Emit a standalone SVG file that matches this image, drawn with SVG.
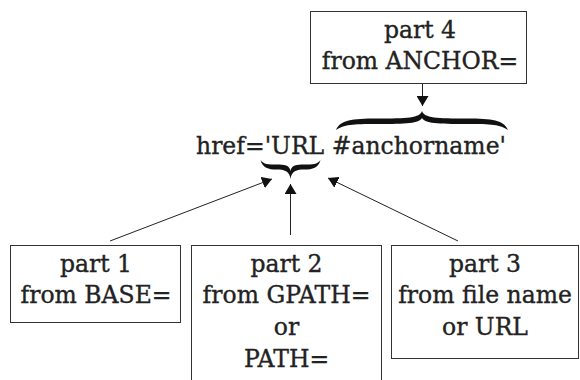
<svg xmlns="http://www.w3.org/2000/svg" width="580" height="380" viewBox="0 0 580 380">
<defs>
<style>
.box{fill:#fff;stroke:#333;stroke-width:1}
.t{font-family:"DejaVu Serif",serif;font-size:23.5px;fill:#222;stroke:#222;stroke-width:0.35;text-anchor:middle}
.main{font-family:"DejaVu Serif",serif;font-size:23.5px;fill:#222;stroke:#222;stroke-width:0.35}
.c{stroke:#222;stroke-width:1;fill:none}
.brace{fill:#111;stroke:none}
</style>
<marker id="ah" viewBox="0 0 10 12" refX="10" refY="6" markerWidth="10" markerHeight="12" markerUnits="userSpaceOnUse" orient="auto">
<path d="M0,0 L10,6 L0,12 z" fill="#111"/>
</marker>
</defs>
<rect width="580" height="380" fill="#fff"/>
<g id="part4">
<rect class="box" x="310.5" y="11.5" width="216" height="72"/>
<text class="t" x="420" y="38">part 4</text>
<text class="t" x="420" y="69">from ANCHOR=</text>
</g>
<g id="href">
<text class="main" x="196" y="154">href='URL #anchorname'</text>
<path class="brace" transform="translate(422,111)" d="M-86,19 C-82,9 -70,7.5 -45,7.5 C-15,7.5 -2,7 0,0 C2,7 15,7.5 45,7.5 C70,7.5 82,9 86,19 C78,13.5 70,13 45,13 C15,13 3,12.5 0,7 C-3,12.5 -15,13 -45,13 C-70,13 -78,13.5 -86,19 Z"/>
<path class="brace" transform="translate(290.5,179)" d="M-30,-19 C-28,-11 -22,-9.5 -14,-9.5 C-6,-9.5 -1,-8 0,0 C1,-8 6,-9.5 14,-9.5 C22,-9.5 28,-11 30,-19 C27,-14.5 22,-14.5 14,-14.5 C6,-14.5 1,-14 0,-8 C-1,-14 -6,-14.5 -14,-14.5 C-22,-14.5 -27,-14.5 -30,-19 Z"/>
</g>
<g id="part1">
<rect class="box" x="10.5" y="245.5" width="170" height="77"/>
<text class="t" x="96" y="272">part 1</text>
<text class="t" x="96" y="303">from BASE=</text>
</g>
<g id="part2">
<rect class="box" x="191.5" y="245.5" width="190" height="140"/>
<text class="t" x="286.5" y="272">part 2</text>
<text class="t" x="286.5" y="303">from GPATH=</text>
<text class="t" x="286.5" y="335">or</text>
<text class="t" x="286.5" y="367">PATH=</text>
</g>
<g id="part3">
<rect class="box" x="391.5" y="245.5" width="187" height="113"/>
<text class="t" x="485" y="272">part 3</text>
<text class="t" x="485" y="303">from file name</text>
<text class="t" x="485" y="335">or URL</text>
</g>
<g id="connectors">
<line class="c" x1="422.5" y1="84" x2="422.5" y2="106" marker-end="url(#ah)"/>
<line class="c" x1="110" y1="241" x2="272" y2="179" marker-end="url(#ah)"/>
<line class="c" x1="290.5" y1="235" x2="290.5" y2="184" marker-end="url(#ah)"/>
<line class="c" x1="458" y1="241" x2="328" y2="178" marker-end="url(#ah)"/>
</g>
</svg>
